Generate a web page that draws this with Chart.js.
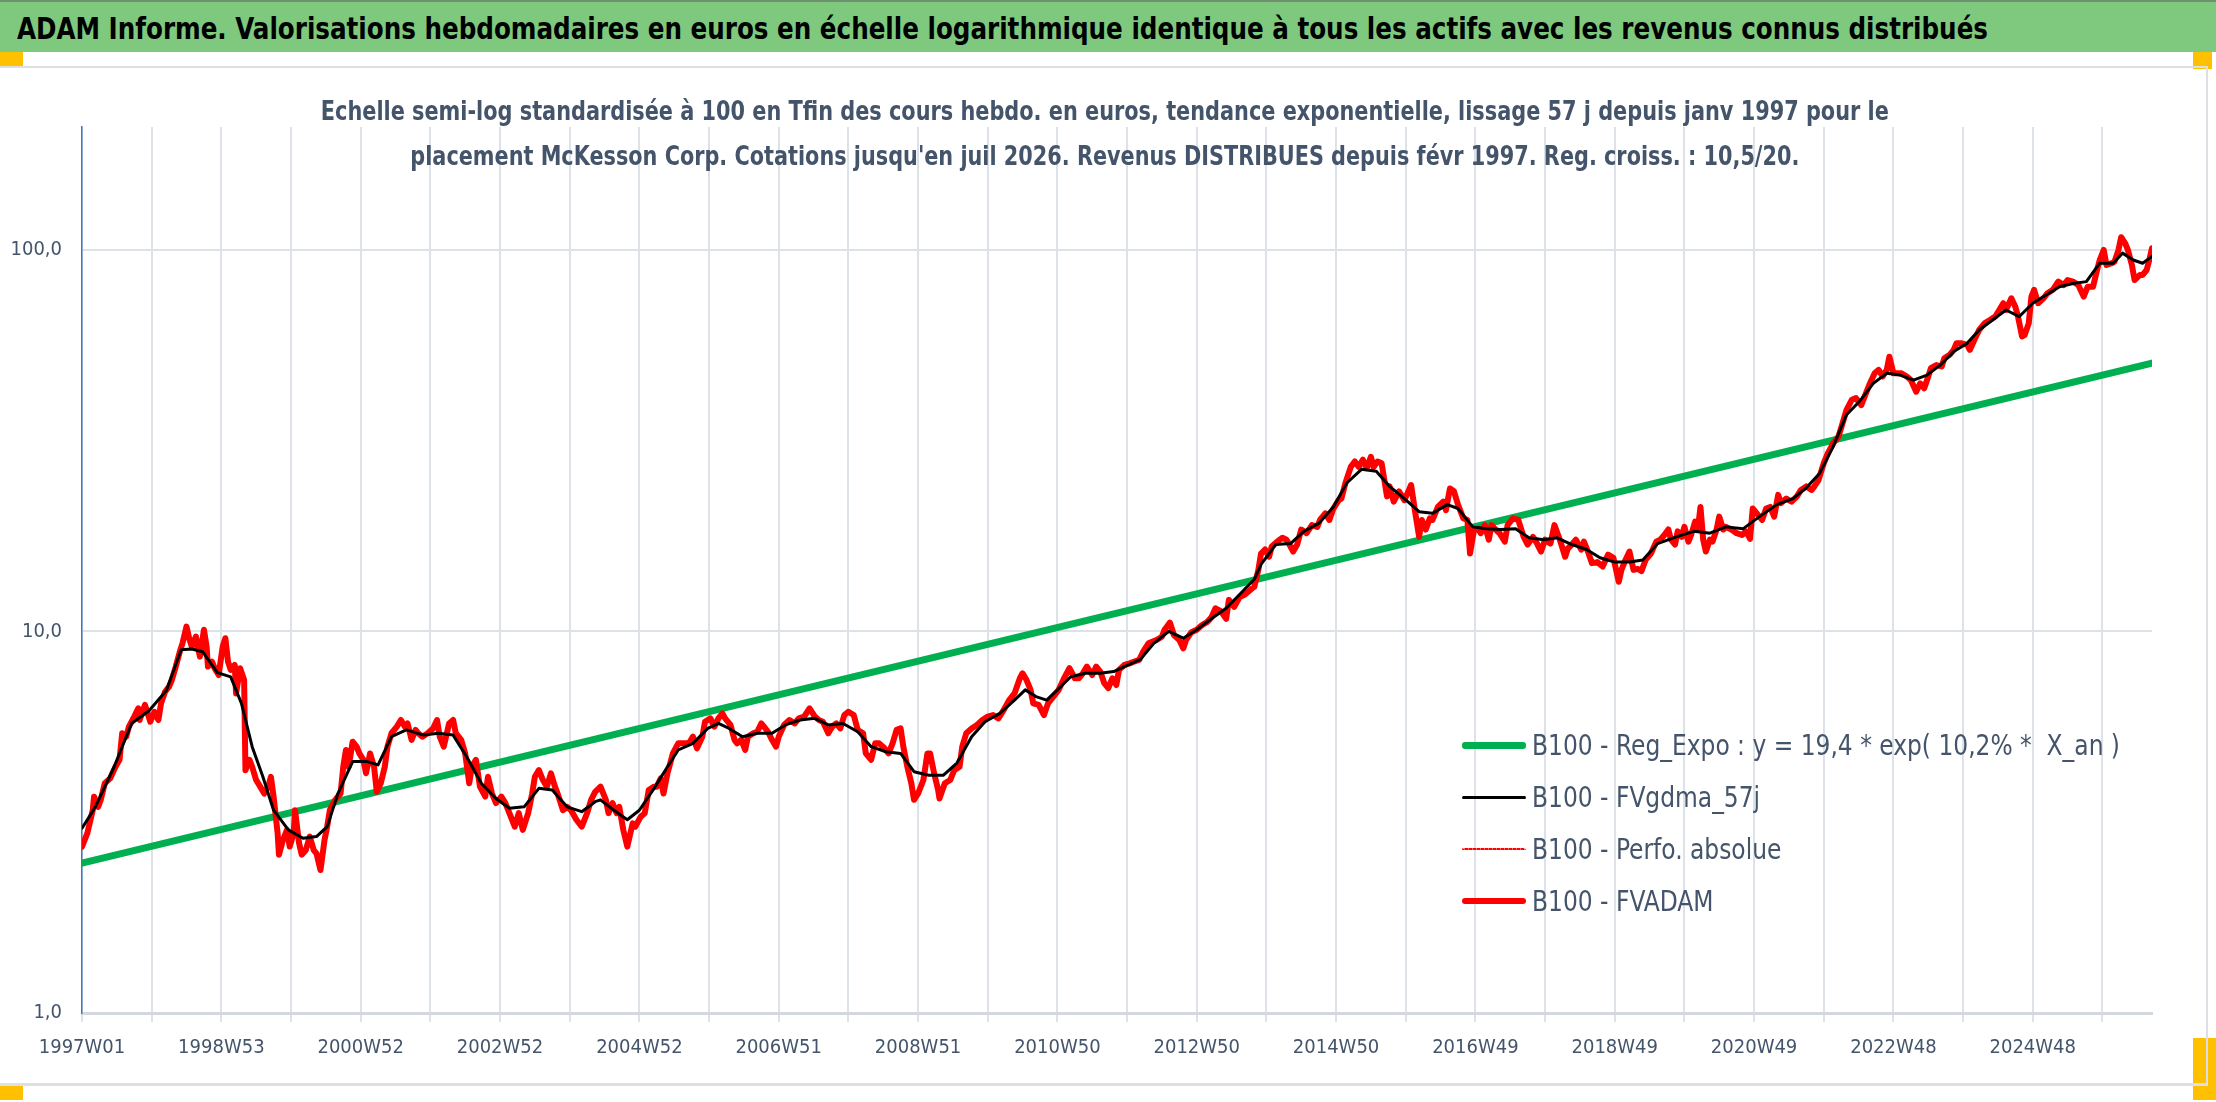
<!DOCTYPE html>
<html>
<head>
<meta charset="utf-8">
<title>ADAM Informe - McKesson Corp.</title>
<script src="https://cdn.jsdelivr.net/npm/chart.js@4.4.1/dist/chart.umd.min.js"></script>
<style>
  html, body { margin: 0; padding: 0; background: #ffffff; overflow: hidden; }
  body { width: 2216px; height: 1102px; position: relative;
         font-family: 'Liberation Sans Narrow', 'DejaVu Sans Condensed', sans-serif; }
  #header { position: absolute; left: 0; top: 0; width: 2216px; height: 52px;
            background: #7ec97e; border-top: 2px solid #6f8f6f; box-sizing: border-box;
            color: #000; font-weight: bold; font-size: 31px; line-height: 52px;
            padding-left: 17px; white-space: nowrap; overflow: hidden; }
  #header span { display: inline-block; transform-origin: left center; }
  .handle { position: absolute; background: #ffc000; }
  #frame { position: absolute; left: 0; top: 66px; width: 2208px; height: 1020px;
           border-top: 2px solid #dcdfe4; border-right: 2px solid #dcdfe4;
           border-bottom: 3px solid #dcdfe4; box-sizing: border-box; }
  #chartBox { position: absolute; left: 0; top: 67px; width: 2207px; height: 1018px; }
  #subtitle { position: absolute; left: 0; width: 2210px; top: 88px; text-align: center;
              color: #44546a; font-weight: bold; font-size: 27px; line-height: 45px; white-space: nowrap; }
  #subtitle span { display: inline-block; transform-origin: center center; }
  #legend { position: absolute; left: 1462px; top: 719px; color: #44546a; font-size: 29px; }
  #legend .row { height: 52px; display: flex; align-items: center; white-space: pre; }
  #legend .sample { width: 64px; margin-right: 6px; }
  #legend .txt { display: inline-block; transform-origin: left center; }
</style>
</head>
<body>
<div id="header"><span id="mainTitle">ADAM Informe. Valorisations hebdomadaires en euros en échelle logarithmique identique à tous les actifs avec les revenus connus distribués</span></div>
<div class="handle" style="left:0;top:52px;width:23px;height:14px"></div>
<div class="handle" style="left:2193px;top:52px;width:19px;height:17px"></div>
<div class="handle" style="left:0;top:1086px;width:23px;height:14px"></div>
<div class="handle" style="left:2193px;top:1038px;width:23px;height:62px"></div>
<div id="frame"></div>
<div id="chartBox"><canvas id="adamChart"></canvas></div>
<div id="subtitle"><span id="sub1">Echelle semi-log standardisée à 100 en Tfin des cours hebdo. en euros, tendance exponentielle, lissage 57 j depuis janv 1997 pour le</span><br><span id="sub2">placement McKesson Corp. Cotations jusqu'en juil 2026. Revenus DISTRIBUES depuis févr 1997. Reg. croiss. : 10,5/20.</span></div>
<div id="legend"></div>
<script>
// libellés de l'axe des semaines (un sur deux traits de grille)
var tickLabels = ['1997W01', '1998W53', '2000W52', '2002W52', '2004W52', '2006W51', '2008W51',
                  '2010W50', '2012W50', '2014W50', '2016W49', '2018W49', '2020W49', '2022W48', '2024W48'];
var yTicks = [1, 10, 100];

// B100 - Reg_Expo : extrémités de la droite de tendance
var trendWeeks = [0, 1545];
var trendValues = [2.47, 50.5];

// B100 - FVADAM (semaine depuis 1997W01, valeur base 100)
var fvadamWeeks = [
  0, 4, 8, 9, 12, 14, 17, 21, 25, 28, 30, 33, 35, 39, 42, 43, 47, 51, 54, 57, 59, 62, 65, 67, 70, 73, 75, 78, 80, 82,
  85, 88, 91, 93, 94, 97, 99, 102, 105, 107, 109, 111, 114, 115, 118, 121, 122, 125, 127, 130, 133, 136, 139, 141, 143, 146, 147, 150, 153, 155,
  158, 159, 162, 164, 167, 170, 173, 175, 178, 181, 183, 185, 189, 193, 195, 197, 199, 202, 205, 207, 210, 212, 215, 218, 220, 223, 226, 228, 231, 235,
  238, 241, 243, 246, 249, 251, 254, 258, 262, 265, 267, 270, 274, 277, 279, 283, 286, 289, 291, 294, 297, 301, 303, 306, 309, 313, 316, 319, 323, 326,
  329, 333, 336, 338, 341, 344, 347, 350, 353, 355, 359, 362, 365, 369, 373, 377, 380, 383, 387, 391, 393, 396, 399, 401, 404, 407, 411, 413, 417, 420,
  423, 427, 429, 432, 434, 437, 441, 445, 449, 453, 456, 459, 463, 465, 469, 472, 475, 478, 480, 484, 487, 489, 492, 495, 497, 501, 504, 507, 509, 512,
  515, 518, 520, 524, 528, 532, 535, 539, 543, 547, 550, 553, 557, 560, 563, 566, 569, 572, 576, 579, 583, 585, 589, 592, 595, 599, 602, 605, 608, 611,
  613, 616, 619, 621, 624, 628, 631, 633, 636, 639, 640, 644, 648, 651, 655, 657, 660, 664, 668, 672, 676, 680, 684, 688, 692, 696, 700, 702, 705, 708,
  710, 714, 718, 721, 725, 729, 733, 737, 741, 744, 747, 750, 754, 757, 760, 763, 766, 769, 772, 774, 778, 782, 785, 789, 792, 796, 802, 806, 808, 812,
  815, 819, 822, 824, 828, 832, 836, 840, 843, 846, 850, 854, 856, 860, 864, 868, 872, 875, 878, 880, 883, 886, 888, 892, 896, 899, 902, 904, 907, 910,
  914, 918, 922, 924, 928, 931, 934, 938, 940, 943, 947, 950, 953, 956, 959, 962, 964, 967, 970, 974, 976, 979, 983, 987, 990, 992, 995, 998, 1000, 1003,
  1006, 1008, 1012, 1016, 1018, 1021, 1024, 1027, 1031, 1034, 1036, 1039, 1042, 1044, 1047, 1050, 1052, 1055, 1058, 1062, 1064, 1068, 1072, 1076, 1079, 1083, 1086, 1089, 1092, 1096,
  1099, 1103, 1107, 1109, 1112, 1115, 1119, 1121, 1124, 1127, 1131, 1135, 1139, 1143, 1147, 1149, 1152, 1155, 1158, 1161, 1164, 1167, 1171, 1175, 1178, 1181, 1184, 1186, 1189, 1191,
  1194, 1196, 1199, 1201, 1204, 1206, 1208, 1210, 1212, 1215, 1217, 1220, 1222, 1225, 1227, 1231, 1235, 1239, 1242, 1245, 1247, 1250, 1254, 1257, 1260, 1263, 1266, 1268, 1272, 1276,
  1280, 1283, 1287, 1291, 1293, 1296, 1300, 1303, 1307, 1311, 1314, 1317, 1321, 1324, 1328, 1331, 1334, 1338, 1341, 1344, 1347, 1349, 1352, 1355, 1358, 1362, 1365, 1369, 1372, 1375,
  1378, 1380, 1384, 1388, 1390, 1394, 1397, 1399, 1403, 1407, 1409, 1413, 1416, 1420, 1424, 1428, 1431, 1434, 1436, 1440, 1443, 1445, 1448, 1450, 1453, 1455, 1457, 1460, 1464, 1467,
  1471, 1475, 1479, 1482, 1486, 1490, 1494, 1497, 1501, 1504, 1506, 1509, 1511, 1515, 1517, 1520, 1522, 1525, 1527, 1530, 1532, 1536, 1538, 1541, 1543, 1545
];
var fvadamValues = [
  2.73, 2.96, 3.40, 3.69, 3.47, 3.62, 4.00, 4.12, 4.42, 4.61, 5.41, 5.30, 5.63, 5.98, 6.29, 5.86, 6.42, 5.80, 6.16, 5.86, 6.48, 6.95, 7.17, 7.46, 8.09, 8.85, 9.31, 10.3, 9.60, 9.12,
  9.70, 8.59, 10.1, 9.12, 8.09, 8.33, 8.01, 7.69, 9.12, 9.60, 8.33, 7.93, 8.17, 6.88, 8.01, 7.46, 4.33, 4.61, 4.42, 4.08, 3.92, 3.76, 3.92, 4.16, 3.69, 2.96, 2.60, 2.84, 3.02, 2.73,
  2.96, 3.40, 2.79, 2.60, 2.67, 2.90, 2.67, 2.62, 2.37, 2.84, 3.08, 3.40, 3.62, 3.76, 4.42, 4.89, 4.42, 5.14, 4.99, 4.79, 4.61, 4.25, 4.79, 4.42, 3.80, 4.00, 4.42, 4.99, 5.41, 5.63,
  5.86, 5.63, 5.74, 5.20, 5.52, 5.41, 5.30, 5.41, 5.57, 5.86, 5.30, 4.99, 5.74, 5.86, 5.41, 5.20, 4.79, 4.00, 4.42, 4.61, 3.92, 3.69, 4.16, 3.76, 3.55, 3.69, 3.55, 3.34, 3.08, 3.34,
  3.02, 3.34, 3.76, 4.16, 4.33, 4.08, 3.92, 4.25, 3.92, 3.76, 3.40, 3.47, 3.40, 3.21, 3.08, 3.34, 3.62, 3.80, 3.92, 3.62, 3.34, 3.55, 3.34, 3.47, 3.02, 2.73, 3.14, 3.08, 3.27, 3.34,
  3.84, 3.92, 3.92, 4.12, 3.76, 4.25, 4.79, 5.09, 5.09, 5.09, 5.30, 4.94, 5.30, 5.80, 5.92, 5.63, 5.92, 6.10, 5.92, 5.69, 5.20, 5.09, 5.20, 4.89, 5.30, 5.41, 5.46, 5.74, 5.63, 5.46,
  5.20, 4.99, 5.30, 5.69, 5.86, 5.74, 5.92, 5.98, 6.29, 5.98, 5.86, 5.80, 5.41, 5.63, 5.74, 5.57, 6.04, 6.16, 6.04, 5.52, 5.41, 4.79, 4.61, 5.09, 5.09, 4.94, 4.79, 5.09, 5.52, 5.57,
  4.99, 4.42, 4.00, 3.62, 3.76, 4.08, 4.79, 4.79, 4.25, 3.84, 3.65, 4.00, 4.08, 4.33, 4.42, 4.99, 5.41, 5.57, 5.69, 5.86, 5.98, 6.04, 5.92, 6.23, 6.61, 6.88, 7.54, 7.77, 7.46, 7.03,
  6.48, 6.42, 6.04, 6.48, 6.75, 7.03, 7.54, 8.01, 7.54, 7.54, 7.77, 8.09, 7.69, 8.09, 7.85, 7.32, 7.10, 7.54, 7.24, 7.93, 8.17, 8.25, 8.33, 8.42, 8.85, 9.31, 9.50, 9.69, 10.1, 10.55,
  9.79, 9.50, 9.03, 9.50, 9.95, 10.1, 10.4, 10.6, 10.9, 11.5, 11.3, 10.8, 12.1, 11.6, 12.3, 12.5, 12.85, 13.1, 14.5, 16.0, 16.4, 15.7, 16.7, 17.2, 17.6, 17.4, 16.7, 16.2, 16.9, 18.5,
  18.1, 19.0, 18.8, 19.6, 20.4, 19.6, 21.0, 22.1, 22.3, 24.5, 27.0, 27.9, 27.0, 28.2, 26.8, 28.7, 27.0, 27.9, 27.6, 22.6, 24.0, 21.9, 23.3, 22.1, 23.3, 24.2, 20.6, 17.7, 19.6, 18.5,
  19.8, 19.6, 21.2, 21.9, 20.8, 23.7, 23.3, 21.5, 19.8, 19.6, 16.0, 18.5, 18.6, 18.1, 19.0, 17.4, 19.0, 18.5, 18.1, 17.2, 19.0, 19.8, 19.6, 17.7, 16.9, 17.7, 17.0, 16.2, 17.4, 17.0,
  19.0, 17.4, 15.7, 16.5, 16.9, 17.4, 16.4, 17.2, 16.2, 15.1, 15.2, 14.8, 15.9, 15.6, 13.5, 14.5, 15.4, 16.2, 14.5, 14.6, 14.4, 15.4, 16.0, 17.2, 17.4, 17.9, 18.5, 17.4, 16.9, 18.3,
  17.7, 18.8, 17.2, 17.9, 19.4, 18.5, 21.2, 17.4, 16.2, 17.4, 17.2, 18.5, 20.0, 18.5, 18.8, 18.5, 18.1, 17.9, 18.3, 17.5, 21.0, 20.4, 19.6, 21.0, 21.2, 20.0, 22.8, 21.7, 22.3, 21.9,
  22.6, 23.5, 24.0, 23.5, 24.0, 24.9, 27.6, 29.3, 31.1, 32.4, 35.1, 38.1, 40.5, 40.9, 39.2, 41.7, 44.3, 47.5, 48.5, 46.6, 48.5, 52.5, 47.5, 47.5, 47.5, 46.6, 45.6, 42.5, 44.7, 43.4,
  46.6, 49.0, 49.9, 49.5, 52.0, 53.1, 54.7, 56.9, 56.9, 56.4, 54.7, 58.7, 61.7, 64.2, 65.5, 66.9, 69.6, 72.5, 69.6, 74.7, 71.0, 66.9, 59.3, 59.9, 64.2, 75.5, 78.6, 72.5, 74.7, 77.0,
  78.6, 82.6, 80.9, 83.4, 82.6, 80.9, 75.5, 80.1, 80.1, 88.6, 94.1, 100, 91.3, 92.3, 93.2, 100, 108, 104, 100, 91.3, 83.4, 86.0, 86.0, 88.6, 94.1, 101
];

// B100 - FVgdma_57j (moyenne lissée)
var smoothWeeks = [
  0, 10, 24, 37, 50, 63, 74, 82, 90, 101, 111, 119, 127, 135, 143, 154, 165, 175, 183, 191, 202, 213, 221, 231, 242, 255, 266, 277, 287, 298,
  309, 319, 330, 341, 351, 362, 373, 383, 387, 397, 407, 416, 427, 437, 445, 456, 467, 475, 483, 493, 504, 515, 525, 536, 547, 557, 568, 579, 589, 600,
  611, 621, 632, 643, 653, 664, 674, 685, 696, 704, 712, 720, 728, 738, 749, 760, 770, 781, 790, 800, 811, 822, 832, 843, 854, 864, 875, 880, 891, 902,
  912, 923, 934, 944, 955, 966, 976, 987, 998, 1008, 1019, 1027, 1038, 1048, 1059, 1070, 1080, 1091, 1101, 1112, 1123, 1133, 1144, 1155, 1165, 1176, 1190, 1203, 1215, 1227,
  1240, 1252, 1265, 1277, 1287, 1297, 1307, 1317, 1327, 1337, 1347, 1357, 1367, 1377, 1387, 1397, 1407, 1416, 1426, 1436, 1446, 1456, 1466, 1476, 1486, 1496, 1506, 1516, 1523, 1531,
  1538, 1545
];
var smoothValues = [
  3.05, 3.47, 4.42, 5.74, 6.20, 7.00, 8.95, 9.00, 8.85, 7.80, 7.60, 6.48, 4.99, 4.16, 3.40, 3.02, 2.87, 2.90, 3.08, 3.76, 4.56, 4.56, 4.47, 5.30, 5.52, 5.35, 5.41, 5.35, 4.70, 4.00,
  3.65, 3.44, 3.47, 3.88, 3.84, 3.47, 3.37, 3.58, 3.62, 3.40, 3.21, 3.40, 3.88, 4.42, 4.89, 5.09, 5.57, 5.74, 5.57, 5.30, 5.41, 5.41, 5.69, 5.86, 5.92, 5.69, 5.74, 5.46, 4.99, 4.84,
  4.79, 4.29, 4.20, 4.20, 4.52, 5.30, 5.80, 6.10, 6.61, 7.03, 6.75, 6.61, 7.03, 7.61, 7.77, 7.77, 7.85, 8.17, 8.45, 9.31, 10.0, 9.60, 10.1, 10.8, 11.5, 12.5, 13.7, 15.0, 16.9, 17.0,
  18.3, 19.2, 21.2, 24.5, 26.6, 26.3, 24.0, 22.3, 20.6, 20.4, 21.5, 21.0, 18.8, 18.6, 18.5, 18.6, 17.6, 17.4, 17.6, 16.9, 16.4, 15.6, 15.2, 15.2, 15.4, 17.0, 17.7, 18.3, 18.1, 18.8,
  18.6, 20.0, 21.5, 22.3, 23.8, 26.0, 30.5, 37.0, 40.2, 44.7, 47.5, 47.0, 45.6, 47.0, 49.9, 54.2, 56.9, 61.7, 65.5, 69.6, 66.9, 72.5, 76.2, 80.1, 81.7, 82.6, 92.3, 92.3, 98.1, 94.1,
  92.3, 96.2
];

function toPoints(weeks, values) {
  return weeks.map(function (w, i) { return { x: w, y: values[i] }; });
}

// resserre horizontalement un texte HTML pour retrouver la largeur d'origine
function fitWidth(el, target) {
  var w = el.getBoundingClientRect().width;
  var k = target / w;
  el.style.transform = 'scaleX(' + k + ')';
  return k;
}

var textColor = '#44546a';
var gridColor = '#dde2e9';
var narrowFont = "'Liberation Sans Narrow', 'DejaVu Sans Condensed', sans-serif";

Chart.defaults.font.family = narrowFont;
Chart.defaults.color = textColor;

var datasets = [
  {
    label: 'B100 - FVgdma_57j',
    data: toPoints(smoothWeeks, smoothValues),
    borderColor: '#000000',
    borderWidth: 3,
    order: 0
  },
  {
    label: 'B100 - FVADAM',
    data: toPoints(fvadamWeeks, fvadamValues),
    borderColor: '#ff0000',
    borderWidth: 6,
    order: 1
  },
  {
    label: 'B100 - Perfo. absolue',
    data: toPoints(fvadamWeeks, fvadamValues),
    borderColor: '#ff0000',
    borderWidth: 2,
    borderDash: [2, 3],
    order: 2
  },
  {
    label: 'B100 - Reg_Expo : y = 19,4 * exp( 10,2% *  X_an )',
    data: toPoints(trendWeeks, trendValues),
    borderColor: '#00b050',
    borderWidth: 7,
    order: 3
  }
];

var chart = new Chart(document.getElementById('adamChart').getContext('2d'), {
  type: 'line',
  data: { datasets: datasets },
  options: {
    responsive: true,
    maintainAspectRatio: false,
    animation: false,
    layout: { padding: { top: 60, right: 55, left: 0, bottom: 0 } },
    elements: {
      point: { radius: 0 },
      line: { tension: 0, borderJoinStyle: 'round', borderCapStyle: 'round' }
    },
    plugins: {
      legend: { display: false },
      title: { display: false },
      tooltip: { enabled: false }
    },
    scales: {
      x: {
        type: 'linear',
        min: 0,
        max: 1545,
        afterFit: function (scale) { scale.height = 72; },
        grid: { color: gridColor, lineWidth: 2, tickLength: 9, drawTicks: true },
        border: { color: '#d3d8df', width: 3 },
        ticks: {
          stepSize: 52,
          includeBounds: false,
          autoSkip: false,
          maxRotation: 0,
          padding: 14,
          color: textColor,
          font: { size: 20 },
          callback: function (value, index) {
            return index % 2 === 0 ? (tickLabels[index / 2] || '') : '';
          }
        }
      },
      y: {
        type: 'logarithmic',
        min: 1,
        max: 210,
        afterFit: function (scale) { scale.width = 82; },
        afterBuildTicks: function (scale) {
          scale.ticks = yTicks.map(function (v) { return { value: v }; });
        },
        grid: { color: gridColor, lineWidth: 2, drawTicks: false },
        border: { color: '#4472c4', width: 1.5 },
        ticks: {
          padding: 20,
          color: textColor,
          font: { size: 20 },
          callback: function (value) { return Number(value).toFixed(1).replace('.', ','); }
        }
      }
    }
  }
});

// légende placée dans la zone de tracé, comme dans le classeur
var legendOrder = [3, 0, 2, 1];
var legendBox = document.getElementById('legend');
var legendTexts = [];
legendOrder.forEach(function (idx) {
  var ds = chart.data.datasets[idx];
  var row = document.createElement('div');
  row.className = 'row';
  var sample = document.createElement('span');
  sample.className = 'sample';
  var style = ds.borderDash ? 'dotted' : 'solid';
  sample.style.borderTop = ds.borderWidth + 'px ' + style + ' ' + ds.borderColor;
  sample.style.borderRadius = '3px';
  var txt = document.createElement('span');
  txt.className = 'txt';
  txt.textContent = ds.label;
  row.appendChild(sample);
  row.appendChild(txt);
  legendBox.appendChild(row);
  legendTexts.push(txt);
});

var legendScale = fitWidth(legendTexts[0], 588);
legendTexts.slice(1).forEach(function (t) { t.style.transform = 'scaleX(' + legendScale + ')'; });
fitWidth(document.getElementById('mainTitle'), 1971);
fitWidth(document.getElementById('sub1'), 1568);
fitWidth(document.getElementById('sub2'), 1389);
</script>
</body>
</html>
